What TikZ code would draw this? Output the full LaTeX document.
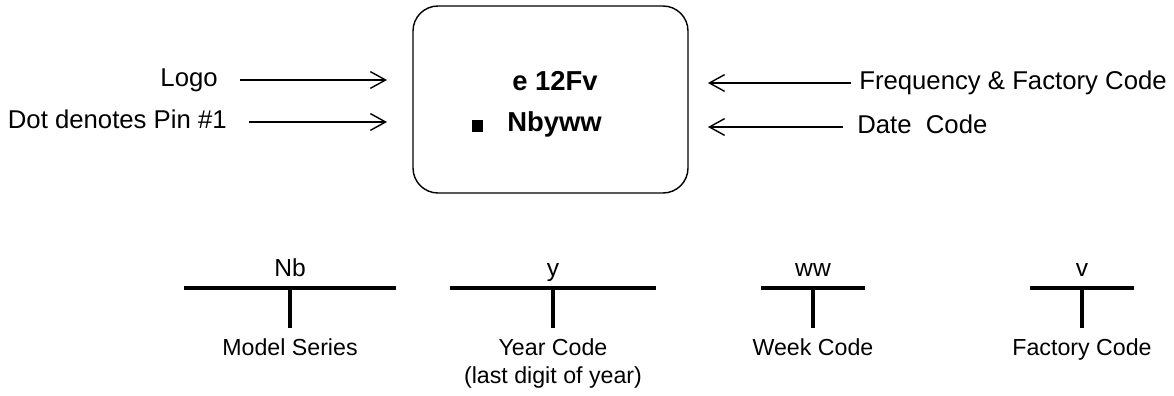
\documentclass[tikz,border=0pt]{standalone}
\usepackage{fontspec}
\setmainfont{Liberation Sans}
\usetikzlibrary{arrows.meta,positioning}

\begin{document}
\begin{tikzpicture}[
  every node/.style={inner sep=0pt},
  lbl/.style={font=\fontsize{18.3}{22}\selectfont, text height=0.9em, text depth=0pt},
  chiptxt/.style={font=\bfseries\fontsize{19.5}{23}\selectfont},
  fieldlbl/.style={font=\fontsize{17.5}{21}\selectfont},
  desclbl/.style={font=\fontsize{16.5}{20}\selectfont, align=center},
  arr/.style={line width=1pt, -{Straight Barb[length=3.8mm,width=4.2mm]}},
  bar/.style={line width=2.4pt}
]
\useasboundingbox (0,0) rectangle (29.35,9.9);

% the chip
\node[draw, line width=1pt, rounded corners=0.625cm,
      minimum width=6.875cm, minimum height=4.675cm] (chip) at (13.7625,7.4125) {};
\node[chiptxt, anchor=base west] (freqcode) at (12.8,7.625) {e 12Fv};
\node[chiptxt, anchor=base west] (datecode) at (12.675,6.6) {Nbyww};
\node[fill, minimum size=0.29cm] (pin) at (11.94,6.75) {};

% the labels left and right
\coordinate (logotip) at (9.675,7.9);
\coordinate (pintip) at (9.675,6.85);
\coordinate (freqtip) at (17.7,7.825);
\coordinate (datetip) at (17.7,6.725);
\node[lbl, anchor=east] (logo) at (5.45,7.9) {Logo};
\node[lbl, anchor=east] (dot) at (5.675,6.85) {Dot denotes Pin \#1};
\node[lbl, anchor=west] (freq) at (21.475,7.825) {Frequency \& Factory Code};
\node[lbl, anchor=west] (date) at (21.425,6.725) {Date\ \ Code};

\draw[arr, shorten <=0.55cm] (logo) -- (logotip);
\draw[arr, shorten <=0.55cm] (dot) -- (pintip);
\draw[arr, shorten <=0.2cm] (freq) -- (freqtip);
\draw[arr, shorten <=0.35cm] (date) -- (datetip);

% the fields of the date code
\foreach \fld/\xc/\hw/\code/\desc in {nb/7.25/2.66/Nb/Model Series,
    yr/13.825/2.58/y/{Year Code\\(last digit of year)},
    wk/20.325/1.29/ww/Week Code, fc/27.05/1.3/v/Factory Code}
{
  \coordinate (\fld top) at (\xc,2.7);
  \coordinate (\fld foot) at (\xc,1.7);
  \draw[bar] ([xshift=-\hw cm]\fld top) -- ([xshift=\hw cm]\fld top);
  \draw[bar] (\fld top) -- (\fld foot);
  \node[fieldlbl, anchor=base] (\fld) at (\xc,2.975) {\code};
  \node[desclbl, below=0.25cm of \fld foot] (\fld desc) {\desc};
}
\end{tikzpicture}
\end{document}
